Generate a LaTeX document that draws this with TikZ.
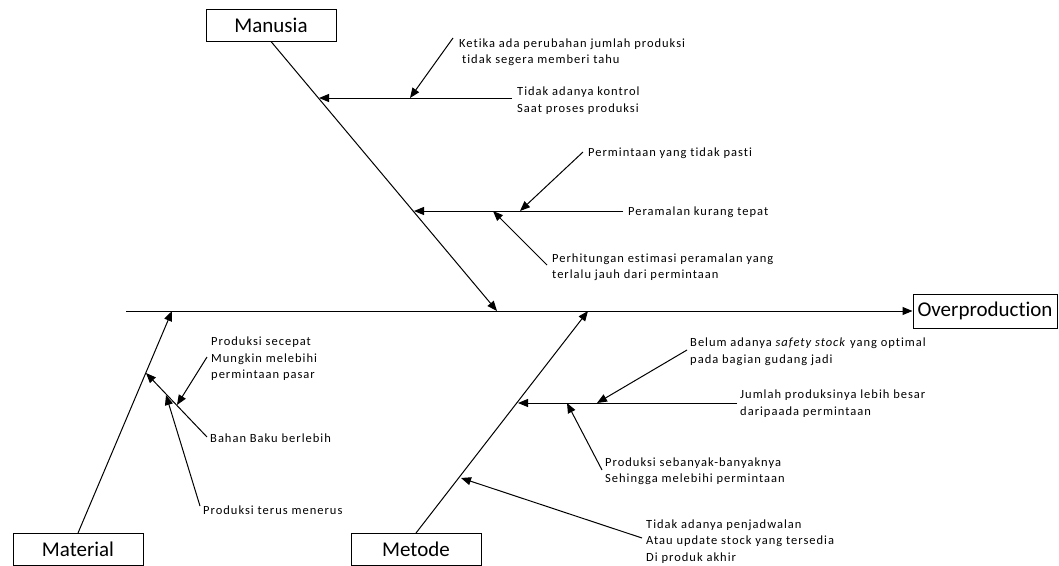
\documentclass[tikz,border=0pt]{standalone}
\usepackage{fontspec}
\setmainfont{Carlito}[Ligatures=CommonOff]
\newfontfamily\notefont[LetterSpace=8,Ligatures=CommonOff]{Carlito}
\usetikzlibrary{arrows.meta}

\begin{document}
\begin{tikzpicture}[x=1pt,y=-1pt,
  bone/.style={line width=1pt},
  tip/.style={-{Triangle[length=10pt,width=8pt]}},
  headbox/.style={draw, line width=1pt, minimum width=130pt, minimum height=32pt,
    inner sep=0pt, font=\fontsize{21}{24}\selectfont},
  note/.style={anchor=west, align=left, inner sep=0pt,
    font=\notefont\fontsize{12.5}{16.5}\selectfont}
]
\useasboundingbox (0,0) rectangle (1059,565);

% category boxes and effect
\node[headbox] (man) at (271,25) {Manusia};
\node[headbox] (mat) at (78,549.5) {Material};
\node[headbox] (met) at (416,549.5) {Metode};
\node[headbox, minimum width=144pt, minimum height=34pt] (ovp) at (985,311) {Overproduction};

% main spine
\coordinate (tail) at (126,311);
\draw[bone,tip] (tail) -- (ovp.west);

% category bones
\coordinate (manend) at (497,311);
\coordinate (matend) at (172,311);
\coordinate (metend) at (588,311);
\draw[bone,tip] (man.south) -- (manend);
\draw[bone,tip] (mat.north) -- (matend);
\draw[bone,tip] (met.north) -- (metend);

% ---- Manusia ----
\node[note] (k1) at (459,52) {Ketika ada perubahan jumlah produksi\\\hspace{3pt}tidak segera memberi tahu};
\node[note] (k2) at (517,100.5) {Tidak adanya kontrol\\Saat proses produksi};
\coordinate (m1) at (319,98);
\coordinate (m1r) at (512,98);
\coordinate (m1a) at (410,98);
\coordinate (k1s) at (453,38);
\draw[bone,tip] (m1r) -- (m1);
\draw[bone,tip] (k1s) -- (m1a);

\node[note] (p1) at (588,153) {Permintaan yang tidak pasti};
\node[note] (p2) at (628,212) {Peramalan kurang tepat};
\node[note] (p3) at (552,267) {Perhitungan estimasi peramalan yang\\terlalu jauh dari permintaan};
\coordinate (m2) at (414,211);
\coordinate (m2r) at (623,211);
\coordinate (m2a) at (520,211);
\coordinate (m2b) at (493,211);
\coordinate (p1s) at (583,152);
\coordinate (p3s) at (547,265);
\draw[bone,tip] (m2r) -- (m2);
\draw[bone,tip] (p1s) -- (m2a);
\draw[bone,tip] (p3s) -- (m2b);

% ---- Material ----
\node[note] (s1) at (211,359) {Produksi secepat\\Mungkin melebihi\\permintaan pasar};
\node[note] (s2) at (210,438) {Bahan Baku berlebih};
\node[note] (s3) at (203,510) {Produksi terus menerus};
\coordinate (a1) at (146,373);
\coordinate (s2s) at (207,437);
\coordinate (s1s) at (207,357);
\coordinate (s1e) at (177,405);
\coordinate (s3s) at (200,506);
\coordinate (s3e) at (166,395);
\draw[bone,tip] (s2s) -- (a1);
\draw[bone,tip] (s1s) -- (s1e);
\draw[bone,tip] (s3s) -- (s3e);

% ---- Metode ----
\node[note] (t1) at (690,351.5) {Belum adanya \textit{safety stock} yang optimal\\pada bagian gudang jadi};
\node[note] (t2) at (740,403.5) {Jumlah produksinya lebih besar\\daripaada permintaan};
\node[note] (t3) at (605,471) {Produksi sebanyak-banyaknya\\Sehingga melebihi permintaan};
\node[note] (t4) at (646,541.5) {Tidak adanya penjadwalan\\Atau update stock yang tersedia\\Di produk akhir};
\coordinate (b1) at (518,403);
\coordinate (b1r) at (737,403);
\coordinate (b1a) at (597,403);
\coordinate (b1b) at (567,403);
\coordinate (t1s) at (687,350);
\coordinate (t3s) at (602,470);
\coordinate (b2) at (461,478);
\coordinate (t4s) at (642,538);
\draw[bone,tip] (b1r) -- (b1);
\draw[bone,tip] (t1s) -- (b1a);
\draw[bone,tip] (t3s) -- (b1b);
\draw[bone,tip] (t4s) -- (b2);
\end{tikzpicture}
\end{document}
